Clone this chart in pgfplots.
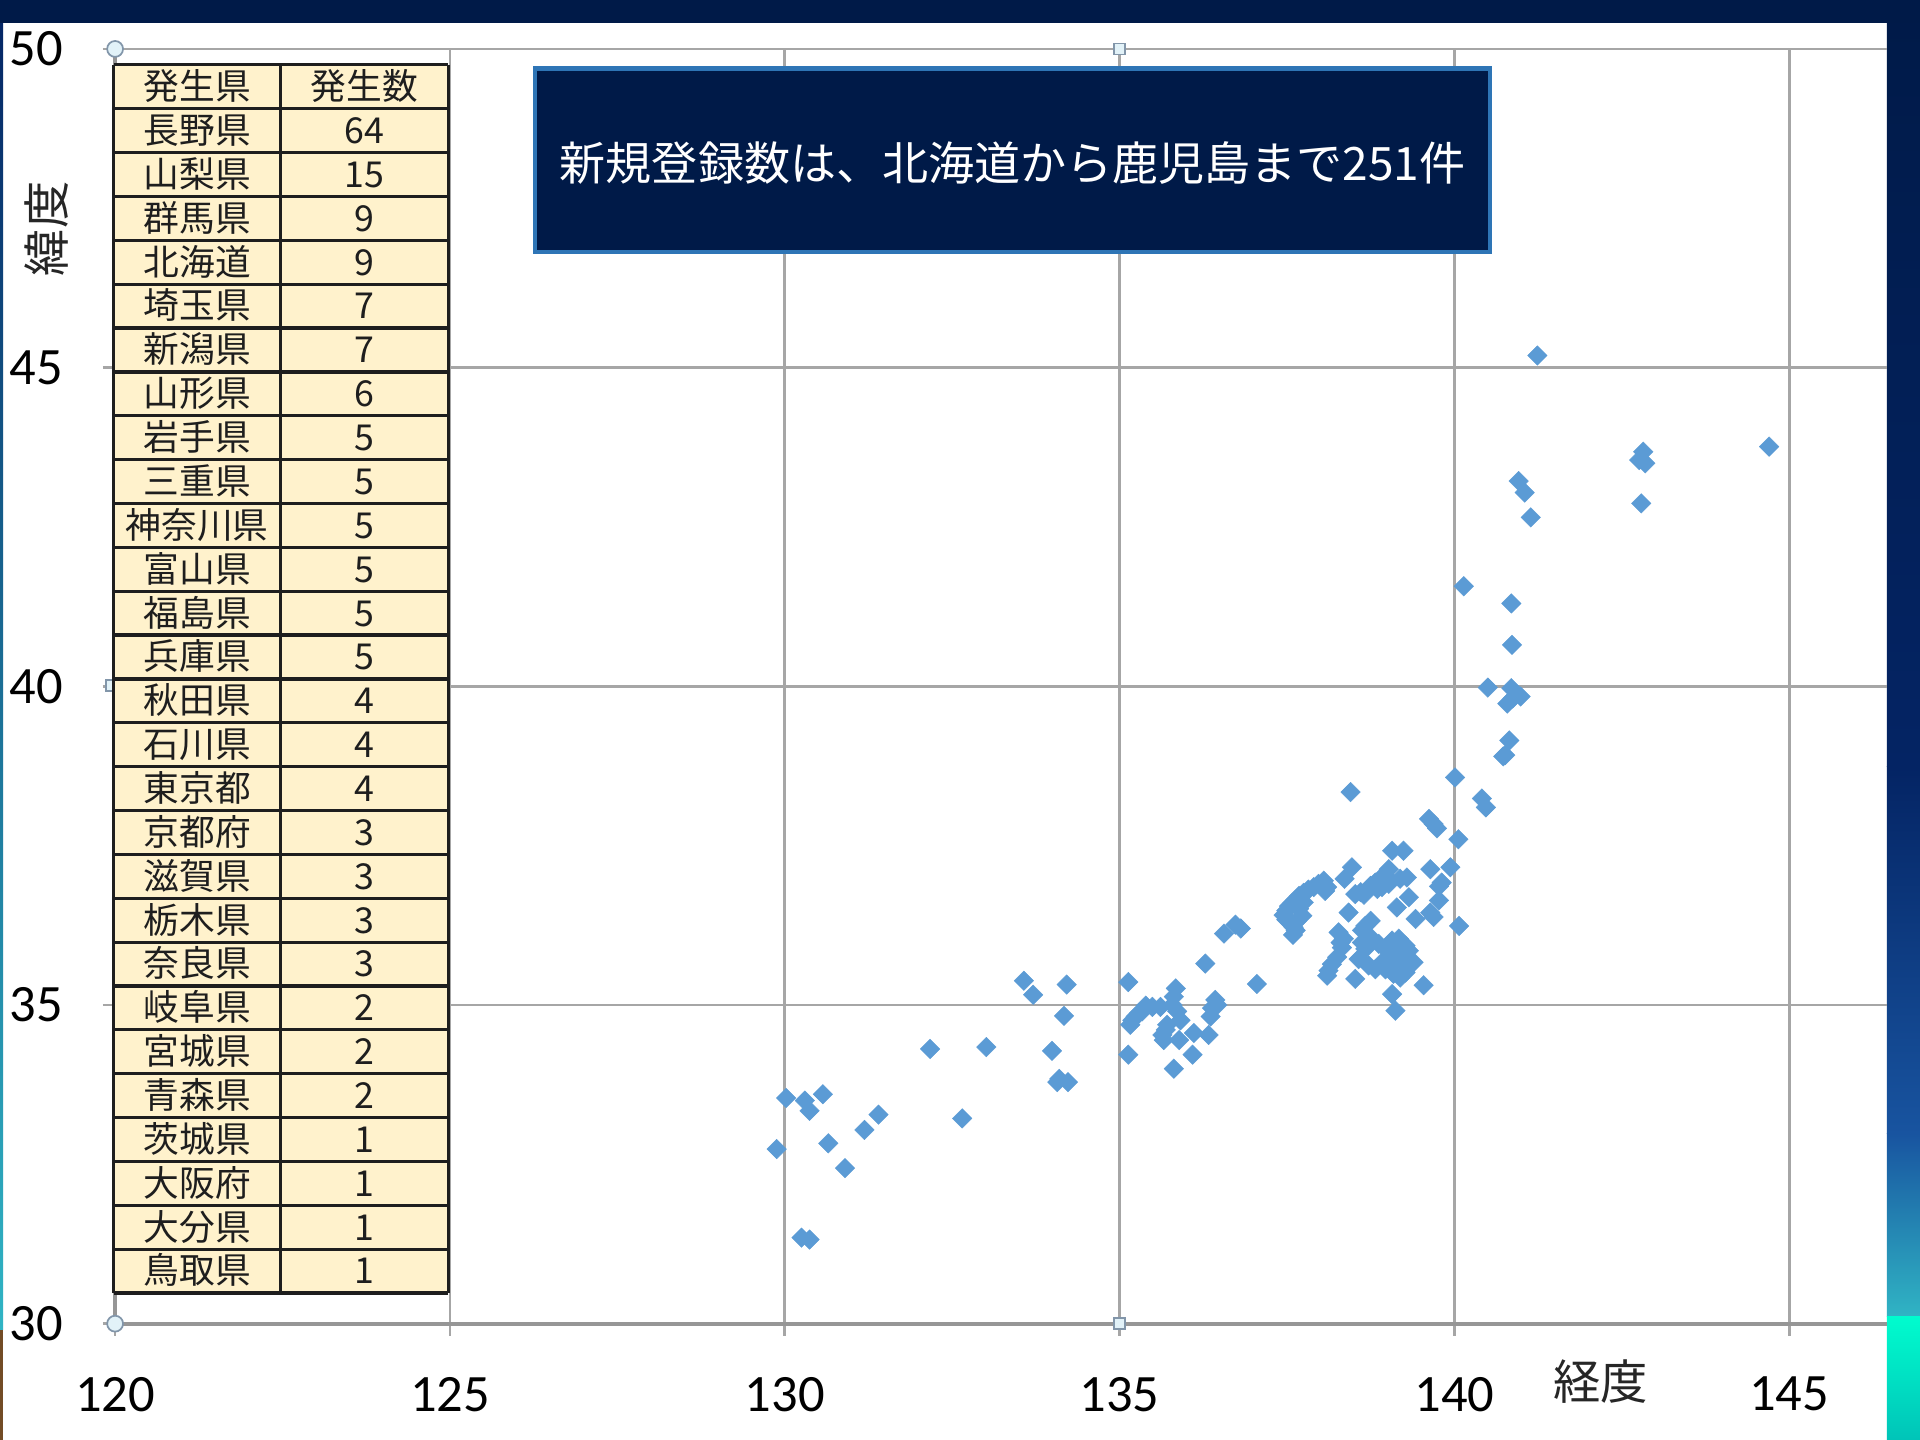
\documentclass[border=0pt]{standalone}
\usepackage{pgfplots}
\pgfplotsset{compat=1.18}
\usepackage{fontspec}
\setmainfont{Carlito}
\newfontfamily\jp{Noto Sans CJK JP}
\definecolor{navy}{RGB}{0,26,72}
\definecolor{navy2}{RGB}{4,36,100}
\definecolor{strip2}{RGB}{24,84,160}
\definecolor{strip3}{RGB}{48,180,196}
\definecolor{cyanA}{RGB}{0,252,206}
\definecolor{cyanB}{RGB}{0,196,184}
\definecolor{boxblue}{RGB}{46,117,182}
\definecolor{mk}{RGB}{91,155,213}
\definecolor{gridc}{RGB}{166,166,166}
\definecolor{axc}{RGB}{150,150,150}
\definecolor{tabfill}{RGB}{255,242,204}
\definecolor{tabline}{RGB}{30,30,30}
\definecolor{hfill}{RGB}{226,242,248}
\definecolor{hdraw}{RGB}{130,150,170}
\begin{document}
\begin{tikzpicture}
\useasboundingbox (0,0) rectangle (15.68,11.76);
\fill[white] (0,0) rectangle (15.68,11.76);
% right strip
\shade[top color=navy, bottom color=navy2] (15.41,5.5) rectangle (15.68,11.76);
\shade[top color=navy2, bottom color=strip2] (15.41,2.5) rectangle (15.68,5.5);
\shade[top color=strip2, bottom color=strip3] (15.41,1.01) rectangle (15.68,2.5);
\shade[top color=cyanA, bottom color=cyanB] (15.41,0) rectangle (15.68,1.01);
% left edge
\shade[top color=navy2, bottom color=strip3] (0,0.9) rectangle (0.025,11.76);
\fill[brown!60!black] (0,0) rectangle (0.025,0.9);
% top band
\fill[navy] (0,11.57) rectangle (15.68,11.76);

\begin{axis}[
  at={(0.94cm,0.95cm)}, anchor=south west,
  scale only axis, width=14.47cm, height=10.41cm,
  xmin=120, xmax=146.46, ymin=30, ymax=50,
  xtick={120,125,130,135,140,145}, ytick={30,35,40,45,50},
  axis lines*=left,
  axis line style={-, draw=axc, line width=0.9pt},
  grid=major,
  major grid style={draw=gridc, line width=0.6pt},
  tick align=outside, major tick length=0.1cm,
  tick style={draw=gridc, line width=0.6pt},
  /pgf/number format/assume math mode=true,
  ticklabel style={font=\fontsize{12.2}{14}\selectfont, text=black, inner sep=0pt},
  xticklabel style={anchor=north, yshift=-0.33cm},
  yticklabel style={anchor=east, xshift=-0.32cm},
]
\addplot[only marks, mark=square*, mark size=1.6pt,
  mark options={rotate=45, fill=mk, draw=mk, line width=0.1pt}] table {
x y
141.24 45.19
144.70 43.76
142.82 43.68
142.76 43.55
142.85 43.50
142.79 42.87
140.96 43.22
141.05 43.04
141.14 42.65
140.14 41.57
140.85 41.30
140.86 40.65
140.50 39.98
140.85 39.97
140.99 39.84
140.79 39.73
140.87 39.81
140.82 39.15
140.76 38.92
140.73 38.90
140.01 38.57
138.45 38.34
140.41 38.24
140.47 38.10
139.62 37.92
139.69 37.84
139.74 37.77
140.06 37.60
139.07 37.42
139.24 37.42
138.47 37.16
138.36 36.98
139.02 37.13
138.82 36.92
138.89 36.98
138.97 37.03
138.92 36.85
138.85 36.82
138.75 36.87
139.02 36.90
139.19 36.98
139.29 37.00
139.32 36.69
139.64 37.13
139.94 37.16
139.81 36.92
139.77 36.86
139.77 36.64
139.14 36.53
138.42 36.45
138.52 36.74
138.60 36.77
138.65 36.73
139.42 36.35
139.64 36.45
139.69 36.38
140.07 36.24
138.05 36.95
138.10 36.85
138.07 36.79
137.97 36.90
137.90 36.85
137.82 36.81
137.75 36.76
137.68 36.71
137.63 36.65
137.58 36.60
137.53 36.55
137.49 36.48
137.45 36.41
137.49 36.34
137.55 36.29
137.60 36.22
137.63 36.17
137.59 36.10
137.68 36.51
137.73 36.40
137.65 36.32
137.75 36.61
138.75 36.32
138.67 36.24
138.62 36.17
138.77 36.04
138.87 35.96
138.97 35.88
139.07 36.01
139.17 36.04
139.27 35.93
139.32 35.85
139.12 35.85
139.02 35.75
138.92 35.67
138.82 35.56
138.72 35.62
139.12 35.67
139.22 35.70
138.97 35.56
139.09 35.49
139.19 35.43
139.27 35.51
138.67 35.88
138.62 35.98
138.27 36.14
138.35 36.04
138.32 35.90
138.30 35.98
138.25 35.75
138.17 35.64
138.12 35.54
138.10 35.46
138.57 35.72
138.52 35.41
139.39 35.67
139.54 35.31
139.07 35.17
139.12 34.91
137.05 35.33
135.13 35.36
135.13 34.22
135.81 34.00
136.09 34.22
135.89 34.45
136.11 34.56
136.33 34.53
135.71 34.69
135.69 34.61
135.64 34.53
135.66 34.45
135.16 34.69
135.19 34.76
135.24 34.82
135.29 34.87
135.39 34.99
135.49 34.97
135.61 34.97
135.34 34.90
135.84 35.26
135.81 35.13
135.79 35.00
135.86 34.90
135.91 34.76
136.43 35.08
136.46 35.00
136.38 34.95
136.36 34.82
136.28 35.65
136.56 36.12
136.73 36.26
136.81 36.20
130.02 33.54
130.30 33.50
130.37 33.34
130.57 33.60
129.88 32.74
130.65 32.83
130.90 32.44
131.19 33.04
131.40 33.28
130.25 31.35
130.37 31.32
132.17 34.31
133.01 34.34
132.65 33.22
133.57 35.38
133.71 35.16
134.21 35.32
134.17 34.83
133.99 34.28
134.10 33.84
134.23 33.79
134.07 33.79
};
\end{axis}

% selection handles
\filldraw[fill=hfill, draw=hdraw, line width=0.4pt] (0.91,6.16) ++(-0.045,-0.045) rectangle ++(0.09,0.09);
\filldraw[fill=hfill, draw=hdraw, line width=0.4pt] (9.14,11.36) ++(-0.045,-0.045) rectangle ++(0.09,0.09);
\filldraw[fill=hfill, draw=hdraw, line width=0.4pt] (9.14,0.95) ++(-0.045,-0.045) rectangle ++(0.09,0.09);
\filldraw[fill=hfill, draw=hdraw, line width=0.4pt] (0.94,11.36) circle (0.065);
\filldraw[fill=hfill, draw=hdraw, line width=0.4pt] (0.94,0.95) circle (0.065);

% table
\fill[tabfill] (0.93,1.20) rectangle (3.66,11.23);
\foreach \n/\v [count=\i from 0] in {発生県/発生数, 長野県/64, 山梨県/15, 群馬県/9, 北海道/9, 埼玉県/7, 新潟県/7, 山形県/6, 岩手県/5, 三重県/5, 神奈川県/5, 富山県/5, 福島県/5, 兵庫県/5, 秋田県/4, 石川県/4, 東京都/4, 京都府/3, 滋賀県/3, 栃木県/3, 奈良県/3, 岐阜県/2, 宮城県/2, 青森県/2, 茨城県/1, 大阪府/1, 大分県/1, 鳥取県/1} {
  \node[font=\jp\fontsize{8.3}{9}\selectfont, text=tabline, anchor=base, inner sep=0pt] at (1.61, {11.23-(\i+0.5)*0.35821-0.105}) {\n};
  \node[font=\jp\fontsize{8.3}{9}\selectfont, text=tabline, anchor=base, inner sep=0pt] at (2.975, {11.23-(\i+0.5)*0.35821-0.105}) {\v};
}
\foreach \i in {0,...,28} {
  \draw[tabline, line width=0.75pt] (0.93, {11.23-\i*0.35821}) -- (3.66, {11.23-\i*0.35821});
}
\draw[tabline, line width=0.75pt] (0.93,1.20) -- (0.93,11.23);
\draw[tabline, line width=0.75pt] (2.29,1.20) -- (2.29,11.23);
\draw[tabline, line width=0.75pt] (3.66,1.20) -- (3.66,11.23);

% message box
\filldraw[fill=navy, draw=boxblue, line width=1pt] (4.37,9.70) rectangle (12.17,11.20);
\node[font=\jp\fontsize{10.7}{13}\selectfont, text=white] at (8.27,10.43) {新規登録数は、北海道から鹿児島まで251件};

% axis titles
\node[font=\jp\fontsize{11}{13}\selectfont, text=black!85, rotate=90] at (0.38,9.89) {緯度};
\node[font=\jp\fontsize{11}{13}\selectfont, text=black!85] at (13.07,0.48) {経度};
\end{tikzpicture}
\end{document}
